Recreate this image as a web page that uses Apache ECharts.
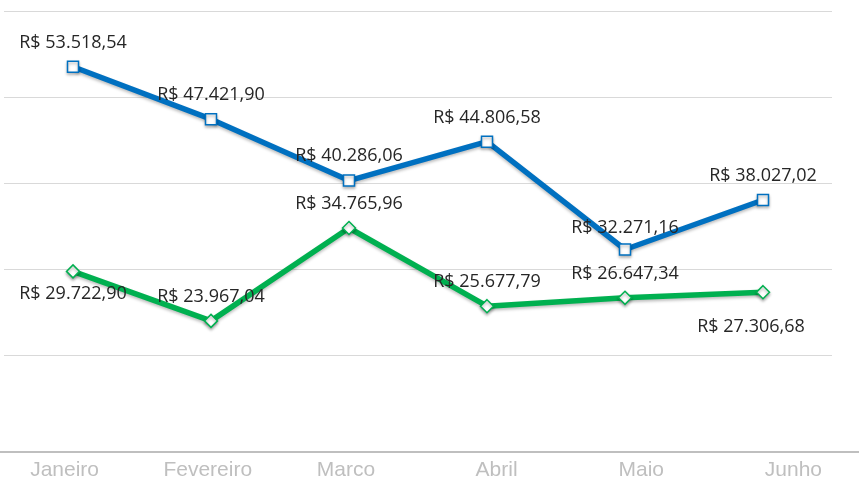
<!DOCTYPE html>
<html>
<head>
<meta charset="utf-8">
<script src="https://cdn.jsdelivr.net/npm/echarts@6/dist/echarts.min.js"></script>
<style>
html,body{margin:0;padding:0;background:#fff;}
#chart{width:859px;height:477px;}
</style>
</head>
<body>
<div id="chart"></div>
<script>
const categories = ['Janeiro', 'Fevereiro', 'Marco', 'Abril', 'Maio', 'Junho'];
const seriesBlue = [53518.54, 47421.90, 40286.06, 44806.58, 32271.16, 38027.02];
const seriesGreen = [29722.90, 23967.04, 34765.96, 25677.79, 26647.34, 27306.68];
const yMin = 10000, yMax = 60000, yStep = 10000;

function brl(v) {
  const parts = v.toFixed(2).split('.');
  const intPart = parts[0].replace(/\B(?=(\d{3})+(?!\d))/g, '.');
  return 'R$ ' + intPart + ',' + parts[1];
}

const labelFont = {
  color: '#262626',
  fontSize: 18,
  fontFamily: '"Open Sans", sans-serif',
  formatter: p => brl(p.value)
};

// per-point label placement overrides (style, not data)
const greenLabelOverrides = {
  0: { position: 'bottom', distance: 6 },
  5: { position: 'bottom', distance: 18, offset: [-12, 0] }
};
const blueLabelOverrides = {
  4: { distance: 6 }
};

// horizontal nudges of the category labels (style)
const catShift = [-7, -7, -12, -4.5, -3, 6];
const catRich = {};
catShift.forEach((s, i) => {
  catRich['c' + i] = {
    color: '#bfbfbf', fontSize: 21, fontFamily: '"Liberation Sans", Arial, sans-serif',
    padding: s < 0 ? [0, -2 * s, 0, 0] : [0, 0, 0, 2 * s]
  };
});

const blueData = seriesBlue.map((v, i) => blueLabelOverrides[i] ? { value: v, label: blueLabelOverrides[i] } : v);
const greenData = seriesGreen.map((v, i) => greenLabelOverrides[i] ? { value: v, label: greenLabelOverrides[i] } : v);

const chart = echarts.init(document.getElementById('chart'), null, { renderer: 'canvas' });
chart.setOption({
  animation: false,
  backgroundColor: '#ffffff',
  grid: [
    { left: 4, right: 27, top: 11, bottom: 36, containLabel: false, outerBoundsMode: 'none' },
    { left: 0, right: 0, top: 11, bottom: 25, containLabel: false, outerBoundsMode: 'none' }
  ],
  xAxis: [
    {
      type: 'category', gridIndex: 0, data: categories, boundaryGap: true,
      axisLine: { show: false }, axisTick: { show: false }, axisLabel: { show: false }
    },
    {
      type: 'category', gridIndex: 1, data: categories, boundaryGap: true,
      axisLine: { show: true, lineStyle: { color: '#bfbfbf', width: 2 } },
      axisTick: { show: false },
      axisLabel: {
        interval: 0, hideOverlap: false,
        color: '#bfbfbf', fontSize: 21, fontFamily: '"Liberation Sans", Arial, sans-serif', margin: 8,
        formatter: (v, i) => '{c' + i + '|' + v + '}',
        rich: catRich
      }
    }
  ],
  yAxis: [
    {
      type: 'value', gridIndex: 0, min: yMin, max: yMax, interval: yStep,
      axisLine: { show: false }, axisTick: { show: false }, axisLabel: { show: false },
      splitLine: { show: true, showMinLine: false, lineStyle: { color: '#d9d9d9', width: 1 } }
    },
    {
      type: 'value', gridIndex: 1, show: false, splitLine: { show: false }
    }
  ],
  series: [
    {
      type: 'line', xAxisIndex: 0, yAxisIndex: 0, data: blueData,
      symbol: 'rect', symbolSize: 11,
      lineStyle: { color: '#0070c0', width: 5.5, shadowColor: 'rgba(0,0,0,0.25)', shadowBlur: 3, shadowOffsetY: 2 },
      itemStyle: { color: '#ffffff', borderColor: '#0070c0', borderWidth: 1.5, shadowColor: 'rgba(0,0,0,0.3)', shadowBlur: 3, shadowOffsetY: 2 },
      label: Object.assign({ show: true, position: 'top', distance: 9 }, labelFont),
      z: 3
    },
    {
      type: 'line', xAxisIndex: 0, yAxisIndex: 0, data: greenData,
      symbol: 'diamond', symbolSize: 13,
      lineStyle: { color: '#00b050', width: 5.5, shadowColor: 'rgba(0,0,0,0.25)', shadowBlur: 3, shadowOffsetY: 2 },
      itemStyle: { color: '#ffffff', borderColor: '#00b050', borderWidth: 1.5, shadowColor: 'rgba(0,0,0,0.3)', shadowBlur: 3, shadowOffsetY: 2 },
      label: Object.assign({ show: true, position: 'top', distance: 8 }, labelFont),
      z: 2
    }
  ]
});
</script>
</body>
</html>
